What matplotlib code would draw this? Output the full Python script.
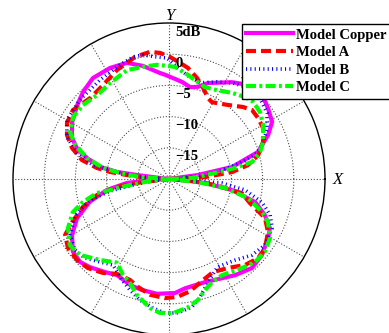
import numpy as np
import matplotlib
matplotlib.use("Agg")
import matplotlib.pyplot as plt

# radiation patterns: angle in degrees (0 = +X, counter-clockwise), level in dB
copper_theta = [0, 7.9, 10.8, 16.9, 24, 29, 35.6, 42, 50, 57,
                67.9, 72.5, 77, 82.4, 92, 94.9, 103, 109.9, 118, 127,
                134.7, 141, 149.6, 157, 161.4, 165.6, 170, 172.3, 172.9, 173.7,
                180, 183, 185.4, 190, 196, 203, 210, 217, 223, 228,
                235.5, 241.6, 250, 256, 264, 273, 278.4, 289, 304.5, 313,
                320.7, 329, 334, 339.4, 345, 350, 353.7, 355.6, 360]
copper_db = [-20, -15.3, -9.7, -5.1, -2.6, -1.1, -0.5, 0.1, -0.3, -1.5,
             -3.4, -4.5, -4.9, -4.3, -3.3, -2.95, -1.4, -0.2, 0.15, 0.26,
             -0.4, -1.1, -2.0, -3.1, -4.4, -6.4, -8.8, -11.6, -14.8, -18.6,
             -20, -17, -13.2, -9.9, -6.8, -4.0, -2.05, -0.7, -0.5, -1.0,
             -1.9, -2.5, -1.9, -1.7, -1.5, -1.7, -2.3, -2.5, -1.3, -0.5,
             -0.75, -1.5, -2.0, -3.6, -5.7, -9.75, -14.2, -17.9, -20]

a_theta = [0, 3, 6.3, 10, 15, 21.5, 28.5, 34.4, 39.7, 44.2,
           51.9, 60.8, 64.3, 69.5, 74.5, 80.3, 84.6, 89.5, 94, 98.5,
           105.6, 115.5, 125, 134, 144.3, 151.2, 156.7, 162.3, 167.7, 171.3,
           173.2, 174.6, 177.4, 180, 187, 188.7, 192.5, 198, 204, 208.3,
           214.3, 221.4, 227.7, 234.9, 241.3, 248.9, 254, 260.7, 268, 273.9,
           280.6, 288.6, 295.3, 303.5, 311.5, 318.4, 324.3, 331.8, 337.9, 343.5,
           349, 352.6, 355, 360]
a_db = [-20, -14.2, -9.8, -7.15, -5.2, -3.8, -2.85, -2.7, -2.7, -3.45,
        -4.9, -5.9, -5.6, -4.4, -3.2, -1.95, -1.3, -0.45, 0.25, 0.6,
        0.3, -0.65, -1.6, -1.9, -1.05, -1.35, -2.2, -3.7, -5.7, -8.3,
        -10.5, -13.2, -16.5, -20, -14.8, -11.6, -8.2, -5.5, -3.0, -1.1,
        -0.4, -0.35, -0.7, -1.6, -2.65, -2.65, -2.0, -1.2, -0.9, -1.05,
        -1.7, -2.9, -3.5, -2.9, -1.6, -0.9, -1.05, -2.0, -3.4, -6.5,
        -8.1, -12.6, -16.3, -20]

b_theta = [0, 4.8, 8.3, 12.7, 16.5, 21, 26.6, 34, 41.7, 48.3,
           56.3, 63.7, 72.1, 80.2, 85.9, 91, 95.6, 101.8, 106.4, 113.3,
           124.9, 138.4, 150, 157.6, 164.2, 169.6, 172.3, 176, 180, 186,
           190, 191.5, 195, 201, 209.5, 217, 223, 230.3, 236.9, 245,
           250.6, 256.5, 263, 268.3, 273.8, 280.2, 284.7, 290.7, 299, 309,
           317.5, 325.5, 334.6, 340.4, 346, 351.8, 355.7, 360]
b_db = [-20, -16.1, -12.2, -8.3, -5.3, -3.9, -2.45, -1.05, -0.5, -0.5,
        -1.5, -2.65, -3.8, -3.1, -2.0, -0.6, -0.35, 0.3, 0.4, -0.1,
        -0.65, -0.9, -1.1, -2.3, -4.7, -7.6, -11.6, -15.3, -20, -17,
        -13.65, -10.35, -6.9, -3.9, -1.8, -1.1, -1.5, -2.7, -3.55, -2.15,
        -1.15, -0.05, 0.85, 1.5, 1.5, 0.85, -0.45, -2.35, -3.9, -3.25,
        -1.95, -1.35, -1.7, -2.8, -4.65, -7.7, -11.5, -20]

c_theta = [0, 2.5, 7.4, 9.5, 11.6, 16.5, 21.5, 29.9, 36.4, 42.5,
           47.2, 53.8, 62.7, 68.6, 73.4, 79.6, 87, 96, 103, 111,
           121.6, 130.6, 139.3, 147, 154.6, 160, 165.6, 170.5, 173, 176,
           180, 186, 188.7, 190.6, 191, 195, 199, 205.9, 213.7, 220.5,
           229.6, 238, 244.4, 249.4, 254.6, 261.6, 266, 271.7, 278, 283.5,
           288, 292.7, 298.9, 309.4, 316, 322.7, 329.7, 336.5, 340.5, 346.5,
           350.9, 354, 360]
c_db = [-20, -16.3, -12.6, -9.3, -6.4, -4.8, -3.8, -2.6, -1.9, -1.7,
        -2.1, -2.9, -3.9, -4.2, -3.8, -3.05, -2.0, -1.6, -1.55, -1.3,
        -1.95, -2.3, -1.8, -1.7, -2.45, -4.0, -6.4, -9.3, -12.1, -15.3,
        -20, -16.9, -13.7, -10.4, -8.25, -5.7, -3.7, -2.0, -0.9, -1.25,
        -2.95, -4.2, -2.95, -2.2, -0.7, 0.9, 1.5, 1.5, 0.85, -0.05,
        -1.3, -2.1, -2.4, -1.55, -0.85, -0.7, -1.25, -2.7, -4.2, -7.0,
        -10.9, -15.3, -20]

ring_levels = [5, 0, -5, -10, -15]
ring_labels = ["5dB", "0", "\u22125", "\u221210", "\u221215"]

plt.rcParams['font.family'] = ['Liberation Serif', 'DejaVu Serif']

fig = plt.figure(figsize=(3.89, 3.33), dpi=100)
ax = fig.add_axes([13/389, -2/333, 312/389, 312/333], projection='polar')

ax.plot(np.radians(copper_theta), copper_db, color='#ff00ff', lw=3, label='Model Copper')
ax.plot(np.radians(a_theta), a_db, color='#ff0000', lw=3,
        linestyle=(0, (2.4, 1.2)), label='Model A')
ax.plot(np.radians(b_theta), b_db, color='#0000ff', lw=2.6,
        linestyle=(0, (0.3, 0.9)), dash_capstyle='butt', label='Model B')
ax.plot(np.radians(c_theta), c_db, color='#00ff00', lw=3,
        linestyle=(0, (2.4, 0.8, 0.7, 0.8)), label='Model C')

ax.set_ylim(-20, 5)
ax.set_rgrids([-15, -10, -5, 0], labels=[])
ax.set_thetagrids(range(0, 360, 30), labels=[])
ax.grid(True, linestyle=':', color='0.3', lw=0.8)
ax.spines['polar'].set_linewidth(1.0)

for lev, lab in zip(ring_levels, ring_labels):
    ax.annotate(lab, xy=(np.pi/2, lev), xytext=(6, -9), textcoords='offset pixels',
                ha='left', va='center', fontsize=10.5, fontweight='bold')

ax.text(0.503, 1.022, 'Y', transform=ax.transAxes, ha='center', va='center',
        fontsize=12, style='italic')
ax.text(1.042, 0.497, 'X', transform=ax.transAxes, ha='center', va='center',
        fontsize=12, style='italic')

leg = fig.legend(loc='upper left', bbox_to_anchor=(242/389, 1 - 24/333),
                 borderaxespad=0, fancybox=False, edgecolor='k', framealpha=1,
                 prop={'weight': 'bold', 'size': 10.5}, handlelength=3.2,
                 handletextpad=0.2, labelspacing=0.3, borderpad=0.3)
leg.get_frame().set_linewidth(1.0)

fig.savefig('out.png', dpi=100)
